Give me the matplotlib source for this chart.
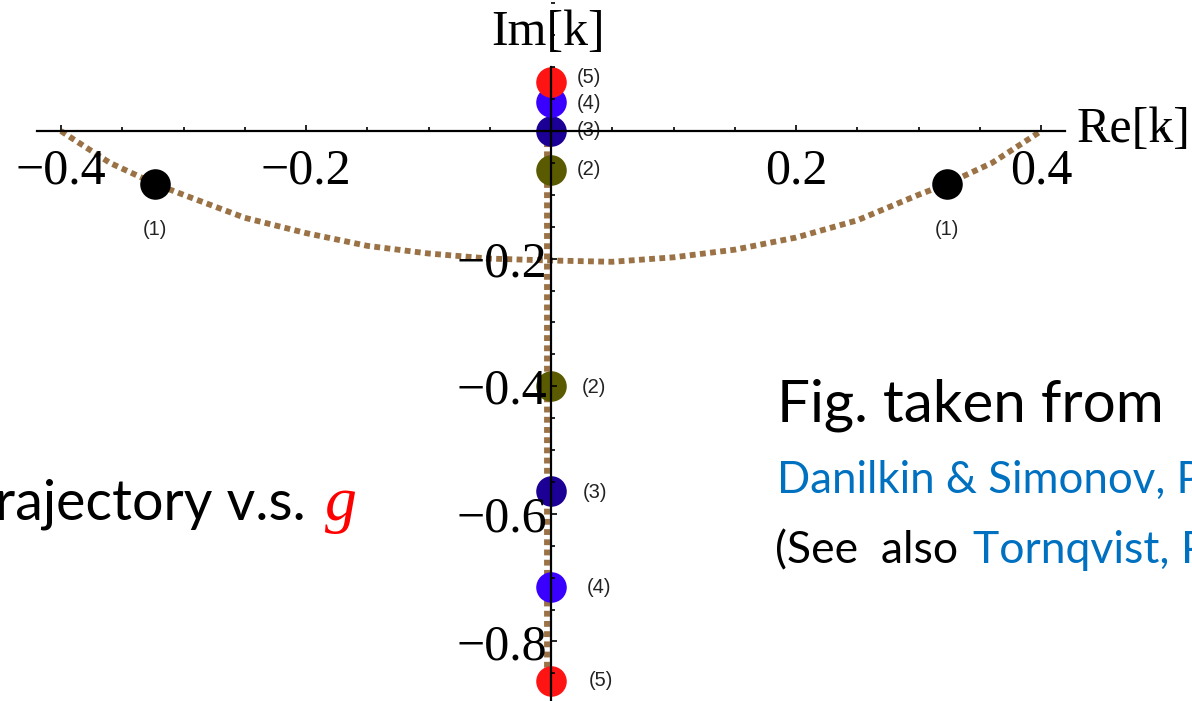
import matplotlib
matplotlib.use("Agg")
import matplotlib.pyplot as plt
from matplotlib.ticker import MultipleLocator

# ---- data ----
curve_re = [-0.40, -0.393, -0.36, -0.323, -0.30, -0.25, -0.20, -0.15, -0.10, -0.05,
            0.0, 0.05, 0.10, 0.15, 0.20, 0.25, 0.30, 0.323, 0.36, 0.393, 0.40]
curve_im = [0.0, -0.009, -0.05, -0.083, -0.10, -0.136, -0.16, -0.18, -0.192, -0.200,
            -0.203, -0.205, -0.198, -0.186, -0.167, -0.14, -0.10, -0.083, -0.05, -0.009, 0.0]
vline_re = [-0.003, -0.003]
vline_im = [0.0, -0.87]

pole_re = [-0.323, 0.323, 0.0, 0.0, 0.0, 0.0, 0.0, 0.0, 0.0, 0.0]
pole_im = [-0.083, -0.083, -0.061, -0.400, 0.0, -0.564, 0.045, -0.715, 0.077, -0.862]
pole_lab = ["(1)", "(1)", "(2)", "(2)", "(3)", "(3)", "(4)", "(4)", "(5)", "(5)"]
step_colors = {"(1)": "#000000", "(2)": "#5a5a00", "(3)": "#1c0096",
               "(4)": "#3a00ff", "(5)": "#ff1414"}
# label offsets (points) and alignment
lab_off = [(0, -33), (0, -33), (18.5, 0), (22, -1), (18.5, 0), (23, -1),
           (18.5, -1), (26, 0), (18.5, 3), (27, 0)]
lab_ha = ["center", "center"] + ["left"] * 8

xticks = [-0.4, -0.2, 0.2, 0.4]
yticks = [-0.2, -0.4, -0.6, -0.8]

W, H = 1192, 701
fig = plt.figure(figsize=(W / 100, H / 100), dpi=100)
ax = fig.add_axes([0, 0, 1, 1])
ax.set_facecolor("none")

# pixel mapping: x0=551 px, 1225 px/unit ; y0=131 px from top, 638 px/unit
ax.set_xlim(-551 / 1225, (W - 551) / 1225)
ax.set_ylim((131 - H) / 638, 131 / 638)

brown = "#9a7245"
ax.plot(curve_re, curve_im, color=brown, lw=4.2, ls=(0, (1, 0.75)),
        dash_capstyle="butt", zorder=1)
ax.plot(vline_re, vline_im, color=brown, lw=4.2, ls=(0, (1, 0.75)),
        dash_capstyle="butt", zorder=1)

for x, y, lab, off, ha in zip(pole_re, pole_im, pole_lab, lab_off, lab_ha):
    ax.plot([x], [y], "o", ms=22, mew=0, color=step_colors[lab], zorder=2)
    ax.annotate(lab, (x, y), xytext=off, textcoords="offset points",
                ha=ha, va="center", fontsize=14.5, family="Liberation Sans",
                color="#222222")

# axes through origin
for s in ["top", "right"]:
    ax.spines[s].set_visible(False)
ax.spines["bottom"].set_position(("data", 0))
ax.spines["left"].set_position(("data", 0))
ax.spines["bottom"].set_bounds(-0.420, 0.4196)
ax.spines["left"].set_bounds((131 - H) / 638, 0.100)
for s in ["bottom", "left"]:
    ax.spines[s].set_linewidth(1.6)
    ax.spines[s].set_zorder(3)
ax.set_axisbelow(False)

ax.set_xticks(xticks)
ax.set_xticklabels(["\u22120.4", "\u22120.2", "0.2", "0.4"])
ax.set_yticks(yticks)
ax.set_yticklabels(["\u22120.2", "\u22120.4", "\u22120.6", "\u22120.8"])
ax.xaxis.set_minor_locator(MultipleLocator(0.05))
ax.yaxis.set_minor_locator(MultipleLocator(0.05))
ax.tick_params(which="major", direction="in", length=4, width=1.2, pad=12,
               labelsize=36)
ax.tick_params(which="minor", direction="in", length=3, width=1.2)
ax.tick_params(axis="y", which="major", pad=3)
for t in ax.get_xticklabels() + ax.get_yticklabels():
    t.set_family("Liberation Serif")

serif = "Liberation Serif"
fig.text(548 / W, 1 - 33 / H, "Im[k]", ha="center", va="center",
         fontsize=36, family=serif)
fig.text(1077 / W, 1 - 130 / H, "Re[k]", ha="left", va="center",
         fontsize=36, family=serif)

sans = "Lato"
fig.text(306 / W, 1 - 520 / H, "trajectory v.s.", ha="right", va="baseline",
         fontsize=40, family=sans)
fig.text(325 / W, 1 - 520 / H, "g", ha="left", va="baseline",
         fontsize=46, family=serif, style="italic", color="#ff0000")
fig.text(777 / W, 1 - 422 / H, "Fig. taken from", ha="left", va="baseline",
         fontsize=42, family=sans)
fig.text(777 / W, 1 - 493 / H, "Danilkin & Simonov, P", ha="left",
         va="baseline", fontsize=31.5, family=sans, color="#0070c0")
fig.text(775 / W, 1 - 563 / H, "(See  also", ha="left", va="baseline",
         fontsize=32, family=sans)
fig.text(973 / W, 1 - 563 / H, "Tornqvist, P", ha="left", va="baseline",
         fontsize=32, family=sans, color="#0070c0")

fig.savefig("out.png", dpi=100)
